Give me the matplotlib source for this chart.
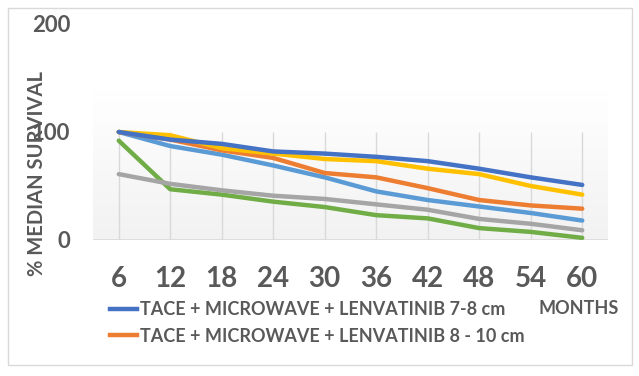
import numpy as np
import matplotlib
matplotlib.use("Agg")
from matplotlib import pyplot as plt
from matplotlib.lines import Line2D
from matplotlib.patches import Rectangle

months = ["6", "12", "18", "24", "30", "36", "42", "48", "54", "60"]
lenva_7_8 = [100, 93, 89, 82, 80, 77, 73, 66, 58, 51]
lenva_8_10 = [100, 93, 83, 76, 62, 58, 48, 37, 32, 29]
series_3 = [100, 97, 85, 80, 75, 73, 66, 61, 50, 42]
series_4 = [100, 87, 79, 69, 58, 45, 37, 31, 25, 18]
series_5 = [61, 52, 46, 41, 38, 33, 28, 19.5, 15, 9]
series_6 = [92, 47, 42, 35.5, 30.5, 23, 20, 11, 7.5, 2]

txt = "#595959"
plt.rcParams['font.family'] = ['Lato', 'DejaVu Sans']
plt.rcParams['font.weight'] = 'bold'

fig = plt.figure(figsize=(6.39, 3.76), dpi=100)
fig.patches.append(Rectangle((8/639, 11/376), 624/639, 357/376, transform=fig.transFigure,
                             fill=False, edgecolor="#D9D9D9", lw=1))
ax = fig.add_axes([93/639, (376-240)/376, 515/639, 216/376])
x = np.arange(len(months))

# gradient plot background
grad = np.linspace(1, 0, 100).reshape(-1, 1)
ax.imshow(grad, extent=(-0.5, 9.5, 0, 139), aspect='auto', cmap=matplotlib.colors.LinearSegmentedColormap.from_list("g", ["#F2F2F2", "#FFFFFF"]), zorder=0)
ax.vlines(x, 0, 100, color="#D9D9D9", lw=1, zorder=1)
ax.axhline(0, color="#D9D9D9", lw=1.2, zorder=1)

kw = dict(lw=3.2, solid_capstyle='round', solid_joinstyle='round', zorder=3)
ax.plot(x, series_6, color="#70AD47", **kw)
ax.plot(x, series_5, color="#A5A5A5", **kw)
ax.plot(x, series_4, color="#5B9BD5", **kw)
ax.plot(x, lenva_8_10, color="#ED7D31", **kw)
ax.plot(x, series_3, color="#FFC000", **kw)
ax.plot(x, lenva_7_8, color="#4472C4", **kw)

ax.set_xlim(-0.5, 9.5)
ax.set_ylim(0, 200)
ax.set_yticks([0, 100, 200])
ax.set_xticks(x)
ax.set_xticklabels(months)
for s in ax.spines.values():
    s.set_visible(False)
ax.tick_params(length=0)
ax.tick_params(axis='x', labelsize=20, labelcolor=txt, pad=19)
ax.tick_params(axis='y', labelsize=16, labelcolor=txt, pad=16.5)

fig.text(37/639, 1-173/376, "% MEDIAN SURVIVAL", rotation=90, ha='center', va='center',
         fontsize=14.5, color=txt, fontweight='bold')
fig.text(539/639, 1-309/376, "MONTHS", ha='left', va='center', fontsize=13, color=txt, fontweight='bold')

handles = [Line2D([], [], color="#4472C4", lw=3.2), Line2D([], [], color="#ED7D31", lw=3.2)]
fig.legend(handles, ["TACE + MICROWAVE + LENVATINIB 7-8 cm", "TACE + MICROWAVE + LENVATINIB 8 - 10 cm"],
           loc='center left', bbox_to_anchor=(110/639, 1-323/376), frameon=False,
           fontsize=13, labelcolor=txt, handlelength=1.5, handletextpad=0.15, labelspacing=0.5,
           borderpad=0, borderaxespad=0)

fig.savefig("out.png", dpi=100)
